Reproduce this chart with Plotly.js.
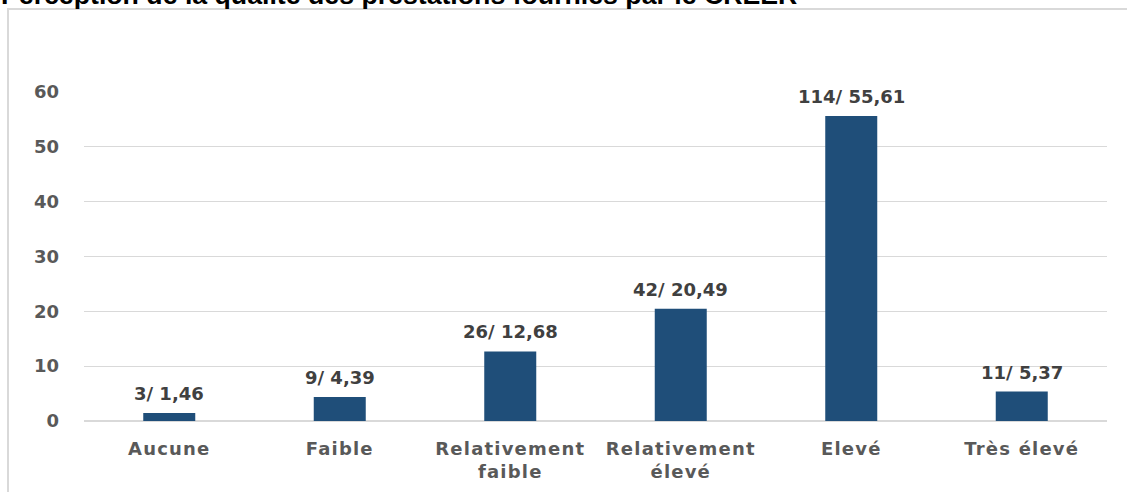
<!DOCTYPE html>
<html>
<head>
<meta charset="utf-8">
<script src="https://cdn.plot.ly/plotly-3.0.1.min.js"></script>
<style>
  html, body { margin: 0; padding: 0; background: #fff; }
  #chart { width: 1127px; height: 492px; }
  #chart .xtick text { letter-spacing: 1.2px; }
</style>
</head>
<body>
<div id="chart"></div>
<script>
const titleText = "Perception de la qualité des prestations fournies par le CREER";
const categories = ["Aucune", "Faible", "Relativement<br>faible", "Relativement<br>élevé", "Elevé", "Très élevé"];
const counts = [3, 9, 26, 42, 114, 11];
const percents = [1.46, 4.39, 12.68, 20.49, 55.61, 5.37];
const yTicks = [0, 10, 20, 30, 40, 50, 60];

const labels = counts.map((n, i) => n + "/ " + percents[i].toFixed(2).replace(".", ","));

const W = 1127, H = 492, L = 84, R = 20, T = 92, B = 71;
const pw = W - L - R, ph = H - T - B;
const px = v => (v - L) / pw;          // pixel x -> paper
const py = v => (H - B - v) / ph;      // pixel y -> paper

const trace = {
  type: "bar",
  x: categories,
  y: percents,
  marker: { color: "#1f4e79" },
  cliponaxis: false,
  hoverinfo: "none"
};

const labelAnnotations = categories.map((c, i) => ({
  x: c, y: percents[i], xref: "x", yref: "y",
  text: labels[i], showarrow: false,
  xanchor: "center", yanchor: "bottom", yshift: 7,
  font: { family: "DejaVu Sans", size: 18, weight: "bold", color: "#404040" }
}));

const layout = {
  width: W, height: H,
  margin: { l: L, r: R, t: T, b: B },
  paper_bgcolor: "#ffffff",
  plot_bgcolor: "#ffffff",
  showlegend: false,
  bargap: 0.695,
  xaxis: {
    type: "category",
    showgrid: false,
    showline: false,
    zeroline: false,
    ticks: "",
    tickfont: { family: "DejaVu Sans", size: 18, weight: "bold", color: "#595959" },
    ticklabelstandoff: 15
  },
  yaxis: {
    range: [0, 60],
    tickvals: yTicks,
    ticktext: yTicks.map(String),
    showgrid: true,
    gridcolor: "#d9d9d9",
    gridwidth: 1,
    zeroline: true,
    zerolinecolor: "#d9d9d9",
    zerolinewidth: 1.5,
    showline: false,
    ticks: "",
    tickfont: { family: "DejaVu Sans", size: 18, weight: "bold", color: "#595959" },
    ticklabelstandoff: 24
  },
  shapes: [
    { type: "line", xref: "paper", yref: "paper", x0: px(8), x1: px(8), y0: py(9), y1: py(H + 2),
      line: { color: "#d9d9d9", width: 2 } },
    { type: "line", xref: "paper", yref: "paper", x0: px(7), x1: px(W + 2), y0: py(9), y1: py(9),
      line: { color: "#d9d9d9", width: 2 } }
  ],
  annotations: [
    { text: "<b>" + titleText + "</b>", xref: "paper", yref: "paper",
      x: px(-1), xanchor: "left", y: py(12), yanchor: "bottom",
      showarrow: false, font: { family: "Liberation Sans", size: 26.7, color: "#000000" } }
  ].concat(labelAnnotations)
};

Plotly.newPlot("chart", [trace], layout, { displayModeBar: false, staticPlot: true });
</script>
</body>
</html>
